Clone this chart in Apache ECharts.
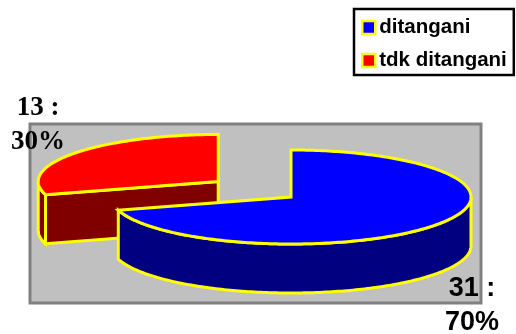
<!DOCTYPE html>
<html>
<head>
<meta charset="utf-8">
<style>html,body{margin:0;padding:0;background:#fff}#c{width:516px;height:334px}</style>
<script src="https://cdn.jsdelivr.net/npm/echarts@6/dist/echarts.min.js"></script>
</head>
<body>
<div id="c"></div>
<script>
// Case counts: handled vs. not handled
const categories = ['ditangani', 'tdk ditangani'];
const counts = [31, 13];
const topColors = ['#0000ff', '#ff0000'];
const sideColors = ['#000080', '#800000'];

const total = counts.reduce((a, b) => a + b, 0);
const OUTLINE = '#ffff00';
const RX = 180, RY = 47, DEPTH = 49;
const CENTER = [291, 197];
const EXPLODE_X = 0.505, EXPLODE_Y = 0.55;
const LABEL_FONT = ['"Liberation Sans"', '"Liberation Serif"'];
const LABEL_POS = [[472, 306], [38, 125]];

// Angles are measured from 12 o'clock, clockwise, on the tilted ellipse
function sliceAngles(i) {
  let start = 0;
  for (let k = 0; k < i; k++) start += counts[k] / total * 360;
  return [start, start + counts[i] / total * 360];
}
function rimPoint(cx, cy, deg) {
  const r = deg * Math.PI / 180;
  return [cx + RX * Math.sin(r), cy - RY * Math.cos(r)];
}
function arcPoints(cx, cy, from, to) {
  const n = Math.max(2, Math.ceil(Math.abs(to - from)));
  const pts = [];
  for (let j = 0; j <= n; j++) pts.push(rimPoint(cx, cy, from + (to - from) * j / n));
  return pts;
}
const drop = (pts) => pts.map(p => [p[0], p[1] + DEPTH]).reverse();

function renderSlice(i, value) {
  const [a0, a1] = sliceAngles(i);
  const mid = (a0 + a1) / 2 * Math.PI / 180;
  // The smaller slice is pulled out of the pie along its bisector
  const cx = CENTER[0] + (i === 1 ? EXPLODE_X * RX * Math.sin(mid) : 0);
  const cy = CENTER[1] - (i === 1 ? EXPLODE_Y * RY * Math.cos(mid) : 0);
  const apex = [cx, cy];
  const style = (fill) => ({ fill, stroke: OUTLINE, lineWidth: 3, lineJoin: 'miter' });
  const children = [];

  // Cut face that looks toward the viewer
  if (i === 1) {
    const end = rimPoint(cx, cy, a0);
    children.push({
      type: 'polygon',
      shape: { points: [apex, end, [end[0], end[1] + DEPTH], [apex[0], apex[1] + DEPTH]] },
      style: style(sideColors[i])
    });
  }
  // Outer wall: only the part of the rim on the near half
  const wallFrom = Math.max(a0, 90), wallTo = Math.min(a1, 270);
  if (wallTo > wallFrom) {
    const rim = arcPoints(cx, cy, wallFrom, wallTo);
    children.push({
      type: 'polygon',
      shape: { points: rim.concat(drop(rim)) },
      style: style(sideColors[i])
    });
  }
  // Top surface
  children.push({
    type: 'polygon',
    shape: { points: [apex].concat(arcPoints(cx, cy, a0, a1)) },
    style: style(topColors[i])
  });
  // Value label
  children.push({
    type: 'text',
    z2: 100,
    style: {
      x: LABEL_POS[i][0],
      y: LABEL_POS[i][1],
      text: value + ' :\n' + Math.round(value / total * 100) + '%',
      font: 'bold 27px ' + LABEL_FONT[i],
      fill: '#000',
      align: 'center',
      verticalAlign: 'middle',
      lineHeight: 34
    }
  });
  return { type: 'group', children };
}

const chart = echarts.init(document.getElementById('c'), null, { renderer: 'canvas' });
chart.setOption({
  animation: false,
  backgroundColor: '#fff',
  legend: {
    orient: 'vertical',
    left: 354,
    top: 9,
    padding: [8, 7, 4, 7],
    itemGap: 12,
    itemWidth: 13,
    itemHeight: 13,
    borderColor: '#000',
    borderWidth: 2.5,
    selectedMode: false,
    textStyle: { fontFamily: '"Liberation Sans"', fontWeight: 'bold', fontSize: 20.5, color: '#000', padding: [0, 0, 0, -1] },
    data: categories.map((name, i) => ({
      name,
      icon: 'rect',
      itemStyle: { color: topColors[i], borderColor: OUTLINE, borderWidth: 2.5 }
    }))
  },
  graphic: [{
    type: 'rect',
    z: 0,
    shape: { x: 30, y: 124, width: 451, height: 179 },
    style: { fill: '#c0c0c0', stroke: '#808080', lineWidth: 3 }
  }],
  // Later series paint on top, so the far slice goes first
  series: [1, 0].map(i => ({
    type: 'custom',
    name: categories[i],
    coordinateSystem: 'none',
    itemStyle: { color: topColors[i] },
    z: i === 1 ? 2 : 3,
    data: [[counts[i]]],
    renderItem: (params, api) => renderSlice(i, api.value(0))
  }))
});
</script>
</body>
</html>
